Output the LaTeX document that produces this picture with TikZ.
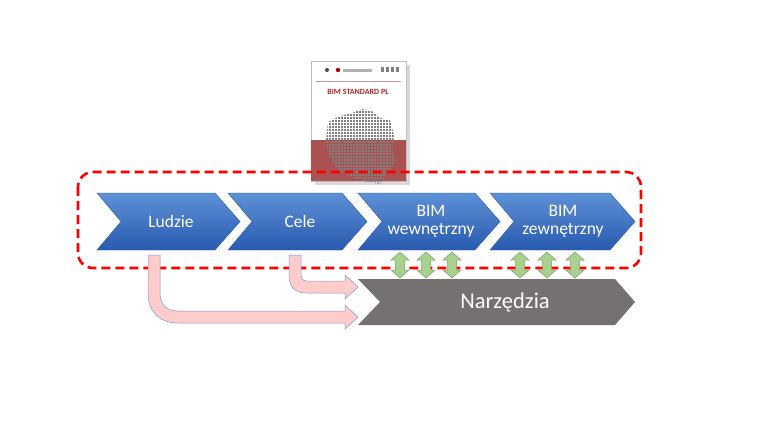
\documentclass[tikz,border=0pt]{standalone}
\usepackage{fontspec}
\setmainfont{Carlito}
\definecolor{cb1}{RGB}{95,145,215}
\definecolor{cb2}{RGB}{40,90,175}
\definecolor{bookred}{RGB}{168,82,82}
\definecolor{bookline}{RGB}{200,150,150}
\definecolor{titred}{RGB}{180,40,40}
\definecolor{gfill}{RGB}{169,209,142}
\definecolor{gdraw}{RGB}{120,160,110}
\definecolor{pfill}{RGB}{255,204,204}
\definecolor{pdraw}{RGB}{130,150,200}
\definecolor{nzgray}{RGB}{118,113,113}
\begin{document}
\begin{tikzpicture}[x=1pt,y=-1pt,
  lbl/.style={text=white,font=\fontsize{17.5}{18}\selectfont,align=center},
  green/.style={fill=gfill, draw=gdraw, line width=0.5pt},
  pink/.style={fill=pfill, draw=pdraw, line width=0.5pt}]
\useasboundingbox (0,0) rectangle (768,432);
% book
\fill[black!15] (315,65) rectangle (410,185);
\fill[white] (311,61) rectangle (406,181);
\draw[black!25,line width=0.3pt] (311,61) rectangle (406,181);
\fill[bookred] (311,140) rectangle (406,181);
\draw[bookline,line width=0.4pt] (316,81) -- (401,81);
\fill[black!70] (327,70) circle (2);
\fill[red!70!black] (338,70) circle (2.2);
\fill[black!30] (343,69) rectangle (372,72);
\foreach \i in {0,...,3}{\fill[black!50] (381+\i*5,67) rectangle (384+\i*5,72);}
\node[font=\fontsize{8}{8}\selectfont\bfseries,text=titred] (bt) at (358,92) {BIM STANDARD PL};
\begin{scope}
\clip (328,122) -- (340,116) -- (352,113) -- (362,109) -- (372,111) -- (380,118) -- (390,120) -- (394,135) -- (392,150) -- (396,162) -- (388,172) -- (380,184) -- (366,182) -- (352,177) -- (338,170) -- (330,158) -- (326,140) -- cycle;
\foreach \x in {320,323,...,400}{\foreach \y in {105,108,...,186}{\fill[black!50] (\x,\y) rectangle (\x+2.2,\y+2.2);}}
\end{scope}
% dashed frame
\draw[red,line width=2.6pt,dash pattern=on 9pt off 5pt,rounded corners=15pt] (78,172) rectangle (641,268);
% chevrons
\foreach \a/\b in {97/240,228/367,358/500,490/635}{
  \path[top color=cb1,bottom color=cb2,draw=cb2,line width=0.4pt] (\a,193) -- (\b-25,193) -- (\b,221.5) -- (\b-25,250) -- (\a,250) -- (\a+24,221.5) -- cycle;
}
\node[lbl] (l1) at (171,221) {Ludzie};
\node[lbl] (l2) at (300,221) {Cele};
\node[lbl] (l3) at (431,221) {BIM\\wewnętrzny};
\node[lbl] (l4) at (563,221) {BIM\\zewnętrzny};
% narzedzia
\fill[nzgray] (358,279) -- (615,279) -- (635,302) -- (615,325) -- (358,325) -- (380,302) -- cycle;
\node[text=white,font=\fontsize{22.5}{24}\selectfont] (nz) at (505,302) {Narzędzia};
% green double arrows
\foreach \x in {400,426,452,520,547,575}{
  \path[green] (\x,252) -- (\x+9,260) -- (\x+4.5,260) -- (\x+4.5,270) -- (\x+9,270) -- (\x,278) -- (\x-9,270) -- (\x-4.5,270) -- (\x-4.5,260) -- (\x-9,260) -- cycle;
}
% pink arrows
\path[pink] (148,255) -- (148,293) .. controls (148,310) and (158,323) .. (178,323) -- (345,323) -- (345,329) -- (358,317) -- (345,305) -- (345,311) -- (178,311) .. controls (166,311) and (160,304) .. (160,293) -- (160,255) -- cycle;
\path[pink] (289,255) -- (289,275) .. controls (289,287) and (295,293) .. (307,293) -- (345,293) -- (345,299) -- (358,287) -- (345,275) -- (345,281) -- (307,281) .. controls (303,281) and (301,279) .. (301,275) -- (301,255) -- cycle;
\end{tikzpicture}
\end{document}
